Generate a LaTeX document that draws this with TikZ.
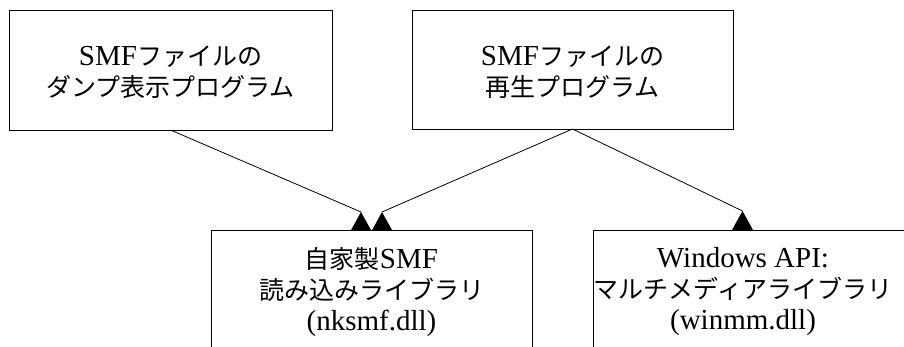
\documentclass[tikz,border=0pt]{standalone}
\usepackage{fontspec}
\setmainfont{Liberation Serif}
\newfontfamily\jpf{Noto Sans CJK JP}
\newcommand{\jp}{\jpf\fontsize{25}{31}\selectfont}
\begin{document}
\begin{tikzpicture}[x=1pt,y=-1pt,
  box/.style={draw=black,line width=0.9pt},
  lbl/.style={align=center,font=\fontsize{29}{31}\selectfont,inner sep=0pt},
  conn/.style={draw=black,line width=0.8pt},
  tip/.style={fill=black}]
\useasboundingbox (0,0) rectangle (904,347);
\clip (0,0) rectangle (904,347);
% boxes
\draw[box] (9,10) rectangle (332,130);
\node[lbl] (dump) at (170.5,72) {SMF{\jp ファイルの}\\{\jp ダンプ表示プログラム}};
\draw[box] (412,10) rectangle (733,129);
\node[lbl] (play) at (572.5,72) {SMF{\jp ファイルの}\\{\jp 再生プログラム}};
\draw[box] (211,230) rectangle (532,356);
\node[lbl] (nk) at (371.5,292) {{\jp 自家製}SMF\\{\jp 読み込みライブラリ}\\(nksmf.dll)};
\draw[box] (593,230) rectangle (930,356);
\node[lbl] (win) at (743,292) {Windows API:\\{\jp マルチメディアライブラリ}\\(winmm.dll)};
% anchors
\coordinate (dumpb) at (170.5,130);
\coordinate (playb) at (572.5,129);
\coordinate (t1) at (361,212);
\coordinate (t2) at (382,212);
\coordinate (t3) at (742.5,211);
% connectors
\draw[conn] (dumpb) -- (t1);
\draw[conn] (playb) -- (t2);
\draw[conn] (playb) -- (t3);
% arrowheads
\fill[tip] (t1) -- ++(-10.5,19) -- ++(21,0) -- cycle;
\fill[tip] (t2) -- ++(-10.5,19) -- ++(21,0) -- cycle;
\fill[tip] (t3) -- ++(-10.5,19) -- ++(21,0) -- cycle;
\end{tikzpicture}
\end{document}
